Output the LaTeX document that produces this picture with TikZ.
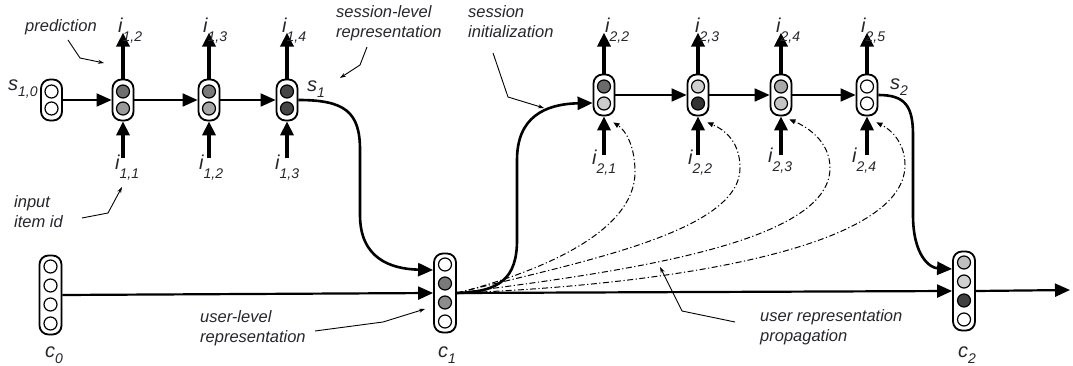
\documentclass[tikz,border=0pt]{standalone}
\usepackage{fontspec}
\setmainfont{Liberation Sans}
\usetikzlibrary{arrows.meta,calc,shadows}
\definecolor{txt}{HTML}{26262E}
\newcommand{\sublab}[3]{{\fontsize{20}{20}\selectfont\itshape #1}\raisebox{#3}{\fontsize{14}{14}\selectfont\itshape #2}}
\newcommand{\il}[1]{\sublab{i}{#1}{-9pt}}
\tikzset{
  cellbox/.style={draw=black, line width=1.8pt, fill=white, rounded corners=9pt,
    minimum width=21pt, inner sep=0pt,
    drop shadow={shadow xshift=0.8pt, shadow yshift=-0.8pt, opacity=0.35}},
  celltwostyle/.style={cellbox, minimum height=41pt},
  cellfourstyle/.style={cellbox, minimum height=79pt, minimum width=22pt},
  dot/.style={draw=black, line width=1.2pt},
  flow/.style={line width=1.8pt, -{Triangle[length=15pt,width=13pt]}},
  io/.style={line width=3.5pt, -{Triangle[length=14pt,width=13pt]}},
  bigcurve/.style={line width=2.6pt, -{Triangle[length=15pt,width=13pt]}},
  userline/.style={line width=2.2pt, -{Triangle[length=15pt,width=13pt]}},
  prop/.style={line width=1pt, dash pattern=on 6pt off 2.5pt on 1.2pt off 2.5pt,
    -{Triangle[length=6pt,width=5pt]}},
  pointer/.style={line width=0.9pt, -{Stealth[length=6pt,width=4pt]}},
  lab/.style={inner sep=0pt, anchor=base west, text=txt},
  note/.style={inner sep=0pt, anchor=base west, text=txt, align=left,
    font=\fontsize{16.5}{20}\selectfont\itshape}
}
\newcommand{\celltwo}[4]{%
  \node[celltwostyle] (#1) at (#2) {};
  \path[dot,fill=#3] ($(#1.center)+(0,-8.5)$) circle[radius=6.5pt];
  \path[dot,fill=#4] ($(#1.center)+(0,8.5)$) circle[radius=6.5pt];}
\newcommand{\cellfour}[6]{%
  \node[cellfourstyle] (#1) at (#2) {};
  \path[dot,fill=#3] ($(#1.center)+(0,-28.5)$) circle[radius=6.5pt];
  \path[dot,fill=#4] ($(#1.center)+(0,-9.5)$) circle[radius=6.5pt];
  \path[dot,fill=#5] ($(#1.center)+(0,9.5)$) circle[radius=6.5pt];
  \path[dot,fill=#6] ($(#1.center)+(0,28.5)$) circle[radius=6.5pt];}
\begin{document}
\begin{tikzpicture}[x=1pt,y=-1pt]
\useasboundingbox (0,0) rectangle (1073,366);
\fill[white] (0,0) rectangle (1073,366);

% ---------- cells ----------
\celltwo{s10}{51.5,100}{white}{white}
\celltwo{n1}{123,100}{black!57}{black!40}
\celltwo{n2}{209,100}{black!52}{black!35}
\celltwo{n3}{287,100}{black!73}{black!73}
\celltwo{n21}{604,95}{black!58}{black!20}
\celltwo{n22}{698,95}{black!19}{black!80}
\celltwo{n23}{781,95}{black!34}{black!23}
\celltwo{n24}{867,95}{white}{white}
\cellfour{c0}{50.5,295}{white}{white}{white}{white}
\cellfour{c1}{445,293}{white}{black!52}{black!45}{white}
\cellfour{c2}{964,291}{black!25}{black!18}{black!75}{white}

% ---------- session 1 ----------
\draw[flow] (s10) -- (n1);
\draw[flow] (n1) -- (n2);
\draw[flow] (n2) -- (n3);
\foreach \n in {n1,n2,n3}{
  \draw[io] (\n.north) -- ++(0,-46);
  \draw[io] ($(\n.south)+(0,37)$) -- (\n.south);
}
% ---------- session 2 ----------
\draw[flow] (n21) -- (n22);
\draw[flow] (n22) -- (n23);
\draw[flow] (n23) -- (n24);
\foreach \n in {n21,n22,n23,n24}{
  \draw[io] (\n.north) -- ++(0,-41);
  \draw[io] ($(\n.south)+(0,39)$) -- (\n.south);
}

% ---------- user level ----------
\coordinate (uend) at (1070,290);
\draw[userline] (c0.east) -- (c1.west);
\draw[userline] (c1.east) -- (c2.west);
\draw[userline] (c2.east) -- (uend);

% session -> user and user -> session curves
\draw[bigcurve] (n3.east) .. controls (345,100) and (360,112) .. (360,150) -- (360,215)
  .. controls (360,258) and (390,269) .. ($(c1.west)+(0,-23)$);
\draw[bigcurve] (c1.east) .. controls (500,292) and (517,278) .. (517,240) -- (517,160)
  .. controls (517,117) and (545,104) .. ($(n21.west)+(0,8)$);
\draw[bigcurve] (n24.east) .. controls (905,95) and (913,106) .. (913,135) -- (913,215)
  .. controls (913,256) and (930,268) .. ($(c2.west)+(0,-22)$);

% propagation (dash dot)
\draw[prop] (c1.east) .. controls (540,272) and (635,232) .. (635,172)
  .. controls (635,145) and (625,130) .. ($(n21.south east)+(-2,6)$);
\draw[prop] (c1.east) .. controls (580,262) and (740,232) .. (740,168)
  .. controls (740,142) and (725,130) .. ($(n22.south east)+(-2,6)$);
\draw[prop] (c1.east) .. controls (620,272) and (830,244) .. (830,168)
  .. controls (830,140) and (805,126) .. ($(n23.south east)+(-3,3)$);
\draw[prop] (c1.east) .. controls (650,286) and (905,252) .. (905,165)
  .. controls (905,142) and (890,129) .. ($(n24.south east)+(-2,6)$);

% ---------- labels ----------
\node[lab] (ls10) at (8,91) {\sublab{s}{1,0}{-6pt}};
\node[lab] (ls1) at (307,92) {\sublab{s}{1}{-6pt}};
\node[lab] (ls2) at (890,90) {\sublab{s}{2}{-6pt}};
\node[lab] (lc0) at (45,357) {\sublab{c}{0}{-6pt}};
\node[lab] (lc1) at (438,357) {\sublab{c}{1}{-6pt}};
\node[lab] (lc2) at (958,357) {\sublab{c}{2}{-6pt}};

\node[lab] (t12) at (118,33) {\il{1,2}};
\node[lab] (t13) at (203,33) {\il{1,3}};
\node[lab] (t14) at (282,33) {\il{1,4}};
\node[lab] (b11) at (115,170) {\il{1,1}};
\node[lab] (b12) at (199,170) {\il{1,2}};
\node[lab] (b13) at (275,170) {\il{1,3}};

\node[lab] (t22) at (605,33) {\il{2,2}};
\node[lab] (t23) at (695,33) {\il{2,3}};
\node[lab] (t24) at (776,33) {\il{2,4}};
\node[lab] (t25) at (861,33) {\il{2,5}};
\node[lab] (b21) at (592,165) {\il{2,1}};
\node[lab] (b22) at (688,165) {\il{2,2}};
\node[lab] (b23) at (768,163) {\il{2,3}};
\node[lab] (b24) at (852,163) {\il{2,4}};

% ---------- annotations (base = last line) ----------
\node[note] (apred) at (25,32) {prediction};
\node[note] (asess) at (336,38) {session-level\\representation};
\node[note] (ainit) at (468,38) {session\\initialization};
\node[note] (ainput) at (14,227) {input\\item id};
\node[note] (auser) at (200,342) {user-level\\representation};
\node[note] (aprop) at (760,341) {user representation\\propagation};

\coordinate (ppred) at (104,63);
\coordinate (psess) at (340,78);
\coordinate (pinit) at (544,108);
\coordinate (pinput) at (122,187);
\coordinate (puser) at (425,309);
\coordinate (pprop) at (660,267);
\draw[pointer] (68,40) -- (80,58) -- (ppred);
\draw[pointer] (367,47) -- (360,65) -- (psess);
\draw[pointer] (493,53) -- (508,97) -- (pinit);
\draw[pointer] (82,218) -- (108,213) -- (pinput);
\draw[pointer] (315,331) -- (383,322) -- (puser);
\draw[pointer] (735,322) -- (682,311) -- (pprop);
\end{tikzpicture}
\end{document}
